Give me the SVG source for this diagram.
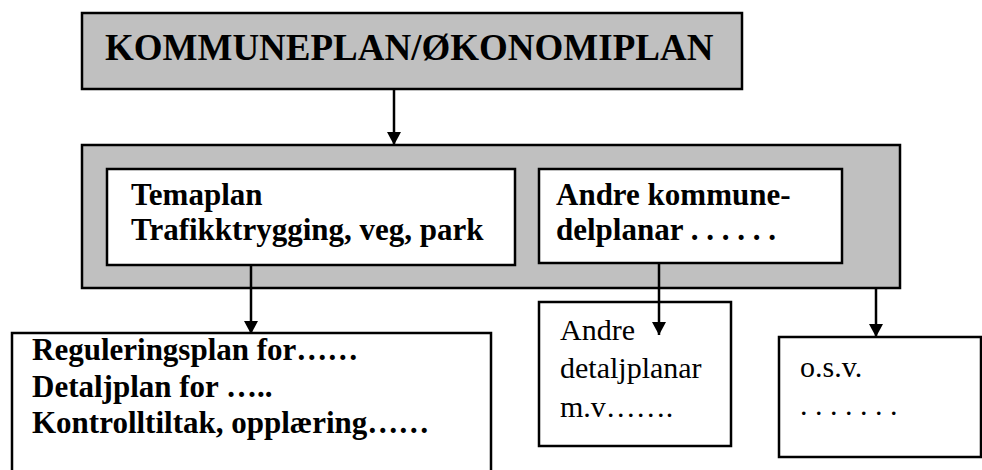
<svg xmlns="http://www.w3.org/2000/svg" width="982" height="470" viewBox="0 0 982 470">
<defs>
<style>
.gray{fill:#c0c0c0;stroke:#000;stroke-width:2.5}
.box{fill:#fff;stroke:#000;stroke-width:2.5}
.b{font-family:"Liberation Serif","Times New Roman",serif;font-weight:bold;fill:#000}
.r{font-family:"Liberation Serif","Times New Roman",serif;fill:#000}
.conn line{stroke:#000;stroke-width:2.5}
</style>
<marker id="ah" markerUnits="userSpaceOnUse" markerWidth="14" markerHeight="14" viewBox="0 0 14 14" refX="13" refY="7" orient="auto">
<path d="M0,0 L13,7 L0,14 Z" fill="#000"/>
</marker>
</defs>
<g id="kommuneplan">
<rect class="gray" x="82" y="13" width="660" height="76"/>
<text class="b" x="105" y="60" font-size="37">KOMMUNEPLAN/ØKONOMIPLAN</text>
</g>
<g id="container">
<rect class="gray" x="82" y="145" width="818" height="143"/>
</g>
<g id="temaplan">
<rect class="box" x="107" y="169" width="408" height="96"/>
<text class="b" x="131" y="205" font-size="31">Temaplan</text>
<text class="b" x="131" y="240" font-size="31">Trafikktrygging, veg, park</text>
</g>
<g id="andre-kommunedelplanar">
<rect class="box" x="539" y="169" width="303" height="94"/>
<text class="b" x="556" y="205" font-size="31">Andre kommune-</text>
<text class="b" x="556" y="240" font-size="31">delplanar . . . . . .</text>
</g>
<g id="regulering">
<rect class="box" x="12" y="333" width="479" height="142"/>
<text class="b" x="32" y="360" font-size="31">Reguleringsplan for……</text>
<text class="b" x="32" y="397" font-size="31">Detaljplan for …..</text>
<text class="b" x="32" y="433" font-size="31">Kontrolltiltak, opplæring……</text>
</g>
<g id="andre-detaljplanar">
<rect class="box" x="539" y="302" width="192" height="144"/>
<text class="r" x="560" y="340" font-size="30">Andre</text>
<text class="r" x="560" y="378" font-size="30">detaljplanar</text>
<text class="r" x="560" y="417" font-size="30">m.v…….</text>
</g>
<g id="osv">
<rect class="box" x="779" y="337" width="202" height="120"/>
<text class="r" x="800" y="377" font-size="30">o.s.v.</text>
<text class="r" x="800" y="415" font-size="30">. . . . . . .</text>
</g>
<g id="connectors" class="conn">
<line x1="394" y1="89" x2="394" y2="145" marker-end="url(#ah)"/>
<line x1="251" y1="265" x2="251" y2="334" marker-end="url(#ah)"/>
<line x1="659" y1="263" x2="659" y2="335" marker-end="url(#ah)"/>
<line x1="876" y1="288" x2="876" y2="337" marker-end="url(#ah)"/>
</g>
</svg>
